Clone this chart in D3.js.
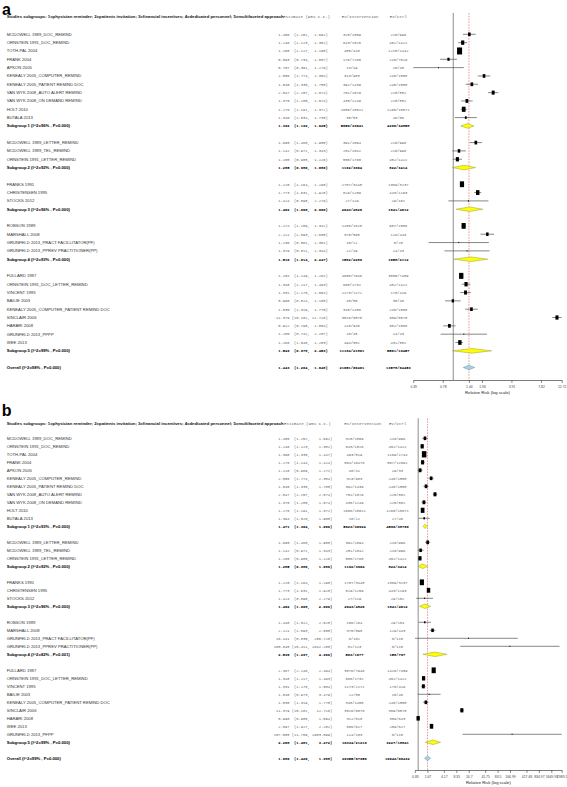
<!DOCTYPE html>
<html><head><meta charset="utf-8">
<script src="https://cdn.jsdelivr.net/npm/d3@7"></script>
<style>
body{margin:0;background:#fff;}
svg{display:block;}
</style></head><body>
<svg id="chart" width="567" height="787"></svg>
<script>
const headerText = "Studies subgroups: 1=physician reminder; 2=patients invitation; 3=financial incentives; 4=dedicated personnel; 5=multifaceted approach";
const columnHeaders = ["Estimate (95% C.I.)", "Ev/Intervention", "Ev/Ctrl"];
const axisTitle = "Relative Risk (log scale)";

// ---------- Panel a ----------
const studiesA = ["MCDOWELL 1989_DOC_REMIND","ORNSTEIN 1991_DOC_REMIND","TOTH-PAL 2004","FRANK 2004","APKON 2005","KENEALY 2005_COMPUTER_REMIND","KENEALY 2005_PATIENT REMIND DOC","VAN WYK 2008_AUTO ALERT REMIND","VAN WYK 2008_ON DEMAND REMIND","HOLT 2010","BUTALA 2013",
 "MCDOWELL 1989_LETTER_REMIND","MCDOWELL 1989_TEL_REMIND","ORNSTEIN 1991_LETTER_REMIND",
 "FRANKS 1991","CHRISTENSEN 1995","STOCKS 2012",
 "ROBSON 1989","MARSHALL 2008","GRUNFELD 2013_PRACT FACILLITATOR(PF)","GRUNFELD 2013_PPREV PRACTITIONER(PP)",
 "FULLARD 1987","ORNSTEIN 1991_DOC_LETTER_REMIND","VINCENT 1995","BAILIE 2003","KENEALY 2005_COMPUTER_PATIENT REMIND DOC","SINCLAIR 2006","HARARI 2008","GRUNFELD 2013_PPPP","WEE 2013"];
const groupA = [1,1,1,1,1,1,1,1,1,1,1, 2,2,2, 3,3,3, 4,4,4,4, 5,5,5,5,5,5,5,5,5];
const estA  = [1.456,1.246,1.158,0.893,0.707,2.056,1.545,2.547,1.375,1.276,1.340, 1.695,1.142,1.100, 1.225,1.773,1.424, 1.274,2.221,1.136,1.379, 1.204,1.348,1.331,0.990,1.530,11.379,0.912,1.280,1.166];
const lowA  = [1.252,1.123,1.127,0.734,0.391,1.774,1.336,2.257,1.200,1.191,1.034, 1.468,0.972,0.988, 1.164,1.631,0.890, 1.209,1.893,0.561,0.811, 1.149,1.217,1.178,0.824,1.319,10.182,0.790,0.742,1.048];
const highA = [1.692,1.382,1.190,1.087,1.279,2.384,1.785,2.874,1.574,1.372,1.738, 1.958,1.343,1.226, 1.290,1.928,2.279, 1.342,2.605,2.301,2.344, 1.261,1.493,1.504,1.188,1.775,12.716,1.054,2.207,1.253];
const evIntA = ["325/1059","643/1826","405/415","176/7268","13/49","313/983","392/1439","701/1079","438/1249","1606/18021","38/53",
 "391/1094","251/1042","550/1768", "1787/3448","829/1259","27/119", "1180/1620","370/598","10/22","22/49",
 "4688/7946","660/1732","1173/2172","45/55","345/1456","3516/6570","243/940","20/48","494/882"];
const evCtrlA = ["210/996","402/1422","1215/1442","215/7029","18/48","240/1550","240/1550","225/882","225/882","1260/18071","46/86",
 "210/996","210/996","402/1422", "1369/3237","443/1193","29/182", "907/1586","129/443","8/20","14/43",
 "3655/7459","402/1422","170/419","38/46","240/1550","309/6570","302/1066","14/43","431/882"];
const subLabelsA = ["Subgroup 1 (I^2=96% , P=0.000)","Subgroup 2 (I^2=92% , P=0.000)","Subgroup 3 (I^2=96% , P=0.000)","Subgroup 4 (I^2=93% , P=0.000)","Subgroup 5 (I^2=99% , P=0.000)"];
const subEstA  = [1.392,1.285,1.462,1.510,1.549];
const subLowA  = [1.192,0.980,1.068,1.014,0.978];
const subHighA = [1.625,1.686,2.000,2.247,2.453];
const subEvIntA  = ["5050/33641","1192/3904","2643/4826","1582/2289","11184/21801"];
const subEvCtrlA = ["4296/34858","822/3414","1841/4612","1058/2112","5561/19457"];
const overallLabelA = "Overall (I^2=98% , P=0.000)";
const overallA = [1.443, 1.264, 1.648];
const overallEvA = ["21651/66461", "13578/64453"];
const tickLabelsA = ["0.39","0.78","1.44","1.96","3.91","7.82","12.72"];

// ---------- Panel b ----------
const studiesB = ["MCDOWELL 1989_DOC_REMIND","ORNSTEIN 1991_DOC_REMIND","TOTH-PAL 2004","FRANK 2004","APKON 2005","KENEALY 2005_COMPUTER_REMIND","KENEALY 2005_PATIENT REMIND DOC","VAN WYK 2008_AUTO ALERT REMIND","VAN WYK 2008_ON DEMAND REMIND","HOLT 2010","BUTALA 2013",
 "MCDOWELL 1989_LETTER_REMIND","MCDOWELL 1989_TEL_REMIND","ORNSTEIN 1991_LETTER_REMIND",
 "FRANKS 1991","CHRISTENSEN 1995","STOCKS 2012",
 "ROBSON 1989","MARSHALL 2008","GRUNFELD 2013_PRACT FACILLITATOR(PF)","GRUNFELD 2013_PPREV PRACTITIONER(PP)",
 "FULLARD 1987","ORNSTEIN 1991_DOC_LETTER_REMIND","VINCENT 1995","BAILIE 2003","KENEALY 2005_COMPUTER_PATIENT REMIND DOC","SINCLAIR 2006","HARARI 2008","WEE 2013","GRUNFELD 2013_PFPP"];
const groupB = [1,1,1,1,1,1,1,1,1,1,1, 2,2,2, 3,3,3, 4,4,4,4, 5,5,5,5,5,5,5,5,5];
const estB  = [1.456,1.246,1.390,1.276,1.110,2.056,1.545,2.547,1.375,1.276,1.394, 1.695,1.142,1.100, 1.225,1.773,1.424, 1.440,2.221,16.441,165.840, 2.367,1.348,1.331,1.840,1.530,11.379,0.996,2.097,187.558];
const lowB  = [1.252,1.123,1.336,1.144,0.969,1.774,1.336,2.257,1.200,1.191,1.020, 1.468,0.972,0.988, 1.164,1.631,0.890, 1.022,1.893,0.835,10.411, 2.246,1.217,1.178,0.973,1.319,10.182,0.906,1.927,11.789];
const highB = [1.692,1.382,1.447,1.424,1.271,2.384,1.785,2.874,1.574,1.372,1.905, 1.958,1.343,1.226, 1.290,1.928,2.279, 2.028,2.605,256.720,2642.280, 2.494,1.493,1.504,3.479,1.775,12.716,1.094,2.282,2983.099];
const evIntB = ["325/1059","643/1826","493/529","654/10476","40/41","313/983","392/1439","701/1079","438/1249","1606/18021","18/22",
 "391/1094","251/1042","550/1768", "1787/3448","829/1259","27/119", "106/264","370/598","6/102","81/113",
 "3576/7946","660/1732","1173/2172","22/55","345/1456","3516/6570","312/518","606/627","124/153"];
const evCtrlB = ["210/996","402/1422","1169/1744","567/11592","29/33","240/1550","240/1550","225/882","225/882","1260/18071","27/46",
 "210/996","210/996","402/1422", "1369/3237","443/1193","29/182", "29/104","129/443","0/115","0/115",
 "1418/7459","402/1422","170/419","10/46","240/1550","309/6570","389/643","289/627","0/115"];
const subLabelsB = ["Subgroup 1 (I^2=93% , P=0.000)","Subgroup 2 (I^2=92% , P=0.000)","Subgroup 3 (I^2=96% , P=0.000)","Subgroup 4 (I^2=82% , P=0.001)","Subgroup 5 (I^2=99% , P=0.000)"];
const subEstB  = [1.471,1.285,1.462,2.536,2.268];
const subLowB  = [1.304,0.980,1.068,1.297,1.481];
const subHighB = [1.660,1.686,2.000,4.960,3.472];
const subEvIntB  = ["5623/36924","1192/3904","2643/4826","563/1077","10334/21219"];
const subEvCtrlB = ["4596/38760","822/3414","1841/4612","158/797","3227/18841"];
const overallLabelB = "Overall (I^2=99% , P=0.000)";
const overallB = [1.680, 1.420, 1.988];
const overallEvB = ["20355/67950", "10642/66432"];
const tickLabelsB = ["0.83","1.67","4.17","8.35","16.7","41.75","83.5","166.99","417.48","834.97","1669.93","2983.1"];

// ---------- drawing ----------
const svg = d3.select("#chart");
const SANS = "'Liberation Sans', Arial, sans-serif";
const MONO = "'Liberation Mono', 'Courier New', monospace";

function buildRows(d) {
  const rows = [];
  let r = 0;
  d.subLabels.forEach((lab, g) => {
    d.studies.forEach((s, i) => {
      if (d.groups[i] === g + 1) rows.push({type: "study", r: r++, name: s, est: d.est[i], lo: d.low[i], hi: d.high[i], evI: d.evI[i], evC: d.evC[i]});
    });
    rows.push({type: "sub", r: r++, name: lab, est: d.subEst[g], lo: d.subLow[g], hi: d.subHigh[g], evI: d.subEvI[g], evC: d.subEvC[g]});
    r++;
  });
  rows.push({type: "overall", r: r, name: d.overallLabel, est: d.overall[0], lo: d.overall[1], hi: d.overall[2], evI: d.overallEv[0], evC: d.overallEv[1]});
  return rows;
}

function drawPanel(d, L) {
  const g = svg.append("g");
  const rows = buildRows(d);
  const y = r => L.row0 + r * L.step;
  const x = d3.scaleLog().domain([d3.min(rows, r => r.lo), d3.max(rows, r => r.hi)]).range(L.xr);

  // panel letter
  g.append("text").attr("x", L.letterX).attr("y", L.letterY).text(L.letter)
    .attr("font-family", SANS).attr("font-weight", "bold").attr("font-size", 16).attr("fill", "#000");

  // header
  g.append("text").attr("x", 6.7).attr("y", L.headY).attr("dy", "0.35em").text(headerText)
    .attr("font-family", SANS).attr("font-weight", "bold").attr("font-size", 4.25).attr("fill", "#111");
  g.append("text").attr("x", L.estHeadX).attr("y", L.headY).attr("dy", "0.35em").text(columnHeaders[0])
    .attr("font-family", MONO).attr("font-size", 4.1).attr("fill", "#666");
  g.append("text").attr("x", L.evIHeadX).attr("y", L.headY).attr("dy", "0.35em").text(columnHeaders[1])
    .attr("font-family", MONO).attr("font-size", 4.1).attr("fill", "#666");
  g.append("text").attr("x", L.evCX).attr("y", L.headY).attr("dy", "0.35em").attr("text-anchor", "middle").text(columnHeaders[2])
    .attr("font-family", MONO).attr("font-size", 4.1).attr("fill", "#666");

  // estimate strings
  const f = v => v.toFixed(3);
  const wE = d3.max(rows, r => f(r.est).length);
  const wL = d3.max(rows, r => ("(" + f(r.lo) + ",").length);
  const wH = d3.max(rows, r => (f(r.hi) + ")").length);
  const estStr = r => f(r.est).padStart(wE) + " " + ("(" + f(r.lo) + ",").padStart(wL) + " " + (f(r.hi) + ")").padStart(wH);

  const rowG = g.selectAll("g.row").data(rows).enter().append("g").attr("class", "row");
  const bold = r => r.type !== "study";
  rowG.append("text").attr("x", 6.7).attr("y", r => y(r.r)).attr("dy", "0.35em").text(r => r.name)
    .attr("font-family", SANS).attr("font-size", 4.2)
    .attr("font-weight", r => bold(r) ? "bold" : "normal").attr("fill", r => bold(r) ? "#000" : "#333");
  rowG.append("text").attr("x", L.estX0).attr("y", r => y(r.r)).attr("dy", "0.35em").text(estStr)
    .style("white-space", "pre").attr("font-family", MONO).attr("font-size", 3.75)
    .attr("font-weight", r => bold(r) ? "bold" : "normal").attr("fill", r => bold(r) ? "#000" : "#666");
  rowG.append("text").attr("x", L.evIX).attr("y", r => y(r.r)).attr("dy", "0.35em").attr("text-anchor", "middle").text(r => r.evI)
    .attr("font-family", MONO).attr("font-size", 3.75)
    .attr("font-weight", r => bold(r) ? "bold" : "normal").attr("fill", r => bold(r) ? "#000" : "#666");
  rowG.append("text").attr("x", L.evCX).attr("y", r => y(r.r)).attr("dy", "0.35em").attr("text-anchor", "middle").text(r => r.evC)
    .attr("font-family", MONO).attr("font-size", 3.75)
    .attr("font-weight", r => bold(r) ? "bold" : "normal").attr("fill", r => bold(r) ? "#000" : "#666");

  // reference lines
  const bottom = L.axisY;
  g.append("line").attr("x1", x(1)).attr("x2", x(1)).attr("y1", L.lineTop).attr("y2", bottom)
    .attr("stroke", "#a8a8a8").attr("stroke-width", 1.3);
  const ov = rows[rows.length - 1];
  g.append("line").attr("x1", x(ov.est)).attr("x2", x(ov.est)).attr("y1", L.lineTop).attr("y2", bottom)
    .attr("stroke", "#e07070").attr("stroke-width", 0.7).attr("stroke-dasharray", "1.6,1.2");

  // study CIs and boxes
  const studies = rows.filter(r => r.type === "study");
  const boxH = r => {
    const se = (Math.log(r.hi) - Math.log(r.lo)) / 3.92;
    const w = 1 / (se * se);
    return Math.max(1.2, Math.min(7, Math.log(w) - 1.5));
  };
  g.selectAll("line.ci").data(studies).enter().append("line").attr("class", "ci")
    .attr("x1", r => x(r.lo)).attr("x2", r => x(r.hi)).attr("y1", r => y(r.r)).attr("y2", r => y(r.r))
    .attr("stroke", "#555").attr("stroke-width", 0.7);
  g.selectAll("rect.box").data(studies).enter().append("rect").attr("class", "box")
    .attr("x", r => x(r.est) - boxH(r) * 0.36).attr("y", r => y(r.r) - boxH(r) / 2)
    .attr("width", r => boxH(r) * 0.72).attr("height", r => boxH(r))
    .attr("fill", "#000");

  // diamonds
  const dia = rows.filter(r => r.type !== "study");
  g.selectAll("path.dia").data(dia).enter().append("path").attr("class", "dia")
    .attr("d", r => {
      const yy = y(r.r), h = 2.3;
      return `M${x(r.lo)},${yy}L${x(r.est)},${yy - h}L${x(r.hi)},${yy}L${x(r.est)},${yy + h}Z`;
    })
    .attr("fill", r => r.type === "sub" ? "#ffff00" : "#9fd6ea")
    .attr("stroke", r => r.type === "sub" ? "#9a9a3a" : "#6a8a98").attr("stroke-width", 0.5);

  // axis
  const tickVals = L.ticks.map(Number);
  const axis = d3.axisBottom(x).tickValues(tickVals).tickFormat((v, i) => L.ticks[i]).tickSize(3).tickSizeOuter(0);
  const ag = g.append("g").attr("transform", `translate(0,${L.axisY})`).call(axis);
  ag.select(".domain").attr("stroke", "#444").attr("stroke-width", 0.7);
  ag.selectAll(".tick line").attr("stroke", "#444").attr("stroke-width", 0.6);
  ag.selectAll(".tick text").attr("font-family", SANS).attr("font-size", 3.4).attr("fill", "#444").attr("y", 5.5);
  g.append("text").attr("x", (L.xr[0] + L.xr[1]) / 2).attr("y", L.axisY + 14).attr("text-anchor", "middle")
    .text(axisTitle).attr("font-family", SANS).attr("font-size", 4.2).attr("fill", "#222");
}

drawPanel({
  studies: studiesA, groups: groupA, est: estA, low: lowA, high: highA, evI: evIntA, evC: evCtrlA,
  subLabels: subLabelsA, subEst: subEstA, subLow: subLowA, subHigh: subHighA, subEvI: subEvIntA, subEvC: subEvCtrlA,
  overallLabel: overallLabelA, overall: overallA, overallEv: overallEvA
}, {letter: "a", letterX: 2, letterY: 14.6, headY: 16.8, row0: 34.3, step: 8.33, xr: [413.3, 561.7], axisY: 380, lineTop: 13,
    estX0: 276, estHeadX: 283.3, evIHeadX: 341.7, evIX: 352, evCX: 398.3, ticks: tickLabelsA});

drawPanel({
  studies: studiesB, groups: groupB, est: estB, low: lowB, high: highB, evI: evIntB, evC: evCtrlB,
  subLabels: subLabelsB, subEst: subEstB, subLow: subLowB, subHigh: subHighB, subEvI: subEvIntB, subEvC: subEvCtrlB,
  overallLabel: overallLabelB, overall: overallB, overallEv: overallEvB
}, {letter: "b", letterX: 1.7, letterY: 416, headY: 423.3, row0: 438.3, step: 8.0, xr: [415, 561.7], axisY: 770, lineTop: 418.3,
    estX0: 273.8, estHeadX: 284, evIHeadX: 344.3, evIX: 354.5, evCX: 397.5, ticks: tickLabelsB});
</script>
</body></html>
